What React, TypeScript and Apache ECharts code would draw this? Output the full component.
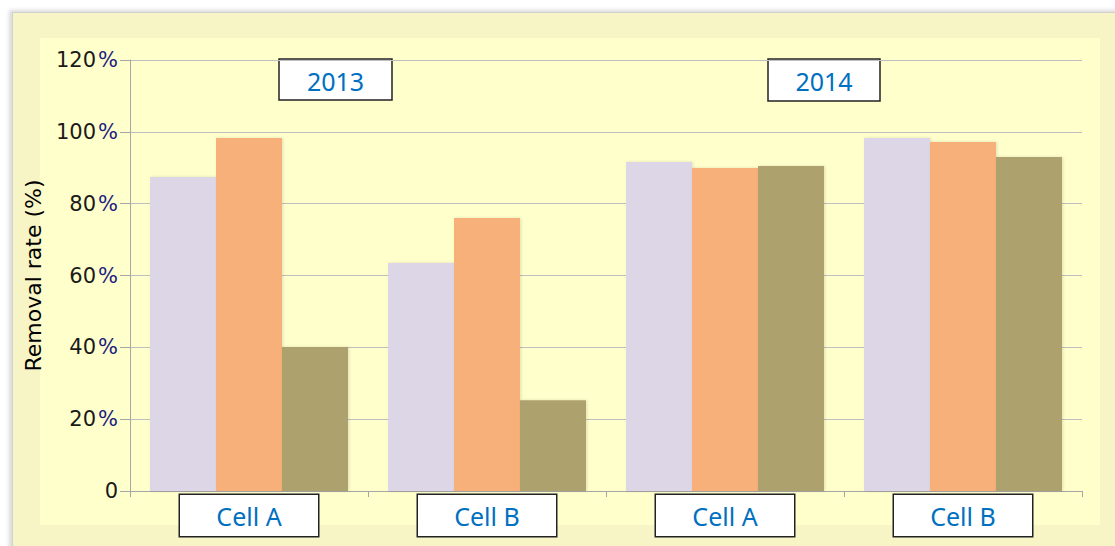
import React, { useEffect, useRef } from "react";
import * as echarts from "echarts";

const categories = ["Cell A", "Cell B", "Cell A", "Cell B"];
const seriesA = [87.4, 63.5, 91.6, 98.3];
const seriesB = [98.3, 76.0, 89.9, 97.2];
const seriesC = [40.1, 25.3, 90.5, 93.0];
const yearLabels = ["2013", "2014"];

export default function App() {
  const ref = useRef<HTMLDivElement>(null);
  useEffect(() => {
    if (!ref.current) return;
    const chart = echarts.init(ref.current, null, { renderer: "svg" });
    const barStyle = (c: string) => ({ color: c, shadowColor: "rgba(0,0,0,0.12)", shadowBlur: 3, shadowOffsetX: 1 });
    const yearBox = (x: number, y: number, w: number, h: number, t: string) => ({
      type: "group",
      x,
      y,
      z: 100,
      children: [
        { type: "rect", shape: { x: 0, y: 0, width: w, height: h }, style: { fill: "#ffffff", stroke: "#222", lineWidth: 1.5 } },
        {
          type: "text",
          x: w / 2,
          y: h / 2 + 1,
          style: { text: t, fill: "#0070C0", font: "25px 'Noto Sans'", align: "center", verticalAlign: "middle" },
        },
      ],
    });
    chart.setOption({
      animation: false,
      backgroundColor: "transparent",
      grid: { left: 130, top: 60, right: 33, bottom: 55 },
      xAxis: {
        type: "category",
        data: categories,
        axisLine: { lineStyle: { color: "#A6A6A6" } },
        axisTick: { show: true, length: 6, lineStyle: { color: "#A6A6A6" } },
        axisLabel: {
          margin: 4,
          formatter: (v: string) => `{b|${v}}`,
          rich: {
            b: {
              width: 138,
              height: 41,
              align: "center",
              verticalAlign: "middle",
              backgroundColor: "#ffffff",
              borderColor: "#222",
              borderWidth: 1.5,
              color: "#0070C0",
              fontSize: 25,
              fontFamily: "'Noto Sans'",
            },
          },
        },
      },
      yAxis: {
        type: "value",
        min: 0,
        max: 120,
        interval: 20,
        name: "Removal rate (%)",
        nameLocation: "middle",
        nameGap: 86,
        nameRotate: 90,
        nameTextStyle: { color: "#000", fontSize: 22, fontFamily: "'DejaVu Sans'" },
        axisLine: { show: true, lineStyle: { color: "#A6A6A6" } },
        axisTick: { show: true, length: 10, inside: false, lineStyle: { color: "#A6A6A6" } },
        splitLine: { lineStyle: { color: "#BFBFBF" } },
        axisLabel: {
          margin: 12,
          formatter: (v: number) => (v === 0 ? "{n|0}" : `{n|${v}}{p|%}`),
          rich: {
            n: { color: "#1a1a1a", fontSize: 21, fontFamily: "'DejaVu Sans'" },
            p: { color: "#1c1c80", fontSize: 21, fontFamily: "'DejaVu Sans'", padding: [0, 0, 0, 2] },
          },
        },
      },
      series: [
        { type: "bar", data: seriesA, itemStyle: barStyle("#DCD6E6"), barGap: "0%", barCategoryGap: "16.8%" },
        { type: "bar", data: seriesB, itemStyle: barStyle("#F8B07A"), barGap: "0%", barCategoryGap: "16.8%" },
        { type: "bar", data: seriesC, itemStyle: barStyle("#ADA26D"), barGap: "0%", barCategoryGap: "16.8%" },
      ],
      graphic: [yearBox(279, 59, 113, 41, yearLabels[0]), yearBox(768, 59, 112, 42, yearLabels[1])],
    });
    return () => chart.dispose();
  }, []);
  return (
    <div style={{ position: "fixed", left: 0, top: 0, width: 1115, height: 546, background: "#ffffff", overflow: "hidden" }}>
      <div
        style={{
          position: "absolute",
          left: 12,
          top: 12,
          width: 1110,
          height: 540,
          background: "#F7F5C6",
          border: "1px solid #d0d0d0",
          boxShadow: "-3px -2px 4px rgba(0,0,0,0.15)",
        }}
      />
      <div style={{ position: "absolute", left: 40, top: 38, width: 1060, height: 487, background: "#FFFFCC" }} />
      <div ref={ref} style={{ position: "absolute", left: 0, top: 0, width: 1115, height: 546 }} />
    </div>
  );
}
